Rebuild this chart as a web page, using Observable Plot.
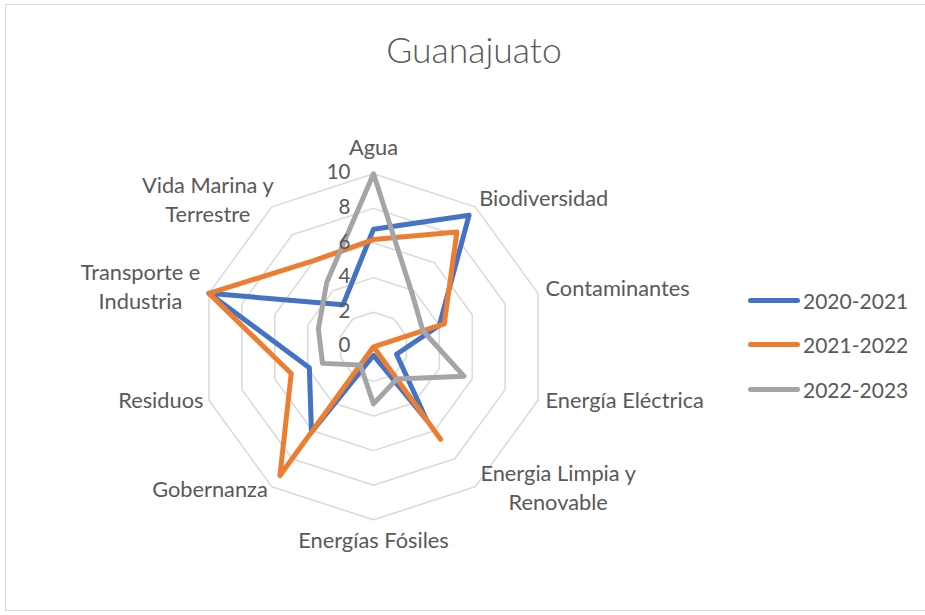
<!DOCTYPE html>
<html>
<head>
<meta charset="utf-8">
<script src="https://cdn.jsdelivr.net/npm/d3@7"></script>
<script src="https://cdn.jsdelivr.net/npm/@observablehq/plot@0.6"></script>
<style>
  html, body { margin: 0; padding: 0; background: #fff; }
  #wrap { position: relative; width: 925px; height: 615px; overflow: hidden; font-family: Lato, "Open Sans", sans-serif; color: #595959; }
  #border { position: absolute; left: 5px; top: 4px; width: 930px; height: 607px; border: 1px solid #d9d9d9; box-sizing: border-box; }
  #title { position: absolute; left: 0; top: 28px; width: 948px; text-align: center; font-size: 35.5px; line-height: 44px; font-weight: 300; }
  #chart { position: absolute; left: 0; top: 0; }
  #legend { position: absolute; left: 748px; top: 278px; }
  .item { display: flex; align-items: center; height: 44.5px; font-size: 21px; }
  .swatch { width: 52px; height: 5px; border-radius: 3px; margin-right: 3px; }
</style>
</head>
<body>
<div id="wrap">
  <div id="border"></div>
  <div id="chart"></div>
  <div id="title"></div>
  <div id="legend"></div>
</div>
<script>
// ---- data ----
const title = "Guanajuato";
const categories = [
  "Agua", "Biodiversidad", "Contaminantes", "Energía Eléctrica",
  "Energia Limpia y\nRenovable", "Energías Fósiles", "Gobernanza",
  "Residuos", "Transporte e\nIndustria", "Vida Marina y\nTerrestre"
];
const seriesNames = ["2020-2021", "2021-2022", "2022-2023"];
const values2020 = [6.8, 9.4, 4.0, 1.4, 5.2, 0.5, 6.1, 3.9, 10, 3.0];
const values2021 = [6.2, 8.2, 4.3, 0.0, 6.6, 0.0, 9.2, 5.0, 10, 6.1];
const values2022 = [10, 3.8, 3.0, 5.5, 2.3, 3.3, 1.3, 3.1, 3.35, 4.6];
const tickValues = [0, 2, 4, 6, 8, 10];

// ---- styles / layout ----
const colors = ["#4472C4", "#ED7D31", "#A5A5A5"];
const textColor = "#595959";
const W = 925, H = 615, cx = 373, cy = 346.3, unit = 17.3;

const n = categories.length;
const ang = i => i * 2 * Math.PI / n;
const px = (v, i) => v * Math.sin(ang(i));
const py = (v, i) => v * Math.cos(ang(i));

const allSeries = [values2020, values2021, values2022];
const lineData = allSeries.map((vals, s) =>
  vals.map((v, i) => ({series: seriesNames[s], x: px(v, i), y: py(v, i)})));

const rings = [];
tickValues.filter(t => t > 0).forEach(t => {
  categories.forEach((_, i) => rings.push({ring: t, x: px(t, i), y: py(t, i)}));
});

// label placement rules (offsets in px from the outer ring vertex)
const labelLayout = [
  {anchor: "middle", dx: 0, dy: -28},
  {anchor: "start", dx: 4, dy: -10},
  {anchor: "start", dx: 7.5, dy: -7},
  {anchor: "start", dx: 7.5, dy: -2},
  {anchor: "middle", dx: 83, dy: -1},
  {anchor: "middle", dx: 0, dy: 19},
  {anchor: "end", dx: -4, dy: 1},
  {anchor: "end", dx: -5.5, dy: -2},
  {anchor: "middle", dx: -68.5, dy: -8},
  {anchor: "middle", dx: -64, dy: -9}
];

const labelMarks = categories.map((c, i) =>
  Plot.text([c], {
    x: () => px(10, i), y: () => py(10, i), text: d => d,
    textAnchor: labelLayout[i].anchor, dx: labelLayout[i].dx, dy: labelLayout[i].dy,
    fill: textColor, fontSize: 21.8, lineHeight: 1.33
  }));

const chart = Plot.plot({
  width: W, height: H, margin: 0,
  x: {domain: [-cx / unit, (W - cx) / unit], range: [0, W], axis: null},
  y: {domain: [-(H - cy) / unit, cy / unit], range: [H, 0], axis: null},
  style: {fontFamily: "Lato, 'Open Sans', sans-serif", background: "transparent"},
  marks: [
    Plot.line(rings, {x: "x", y: "y", z: "ring", curve: "linear-closed", stroke: "#d9d9d9", strokeWidth: 1.5}),
    ...lineData.map((d, s) => Plot.line(d, {
      x: "x", y: "y", curve: "linear-closed", stroke: colors[s], strokeWidth: 5,
      strokeLinejoin: "round", strokeLinecap: "round"
    })),
    Plot.text(tickValues, {x: () => 0, y: d => d, text: d => String(d), textAnchor: "end", dx: -23, dy: -1,
      fill: textColor, fontSize: 20.5}),
    ...labelMarks
  ]
});
document.getElementById("chart").appendChild(chart);
document.getElementById("title").textContent = title;

const legend = document.getElementById("legend");
seriesNames.forEach((name, s) => {
  const item = document.createElement("div");
  item.className = "item";
  const sw = document.createElement("div");
  sw.className = "swatch";
  sw.style.background = colors[s];
  const lab = document.createElement("span");
  lab.textContent = name;
  item.appendChild(sw);
  item.appendChild(lab);
  legend.appendChild(item);
});
</script>
</body>
</html>
